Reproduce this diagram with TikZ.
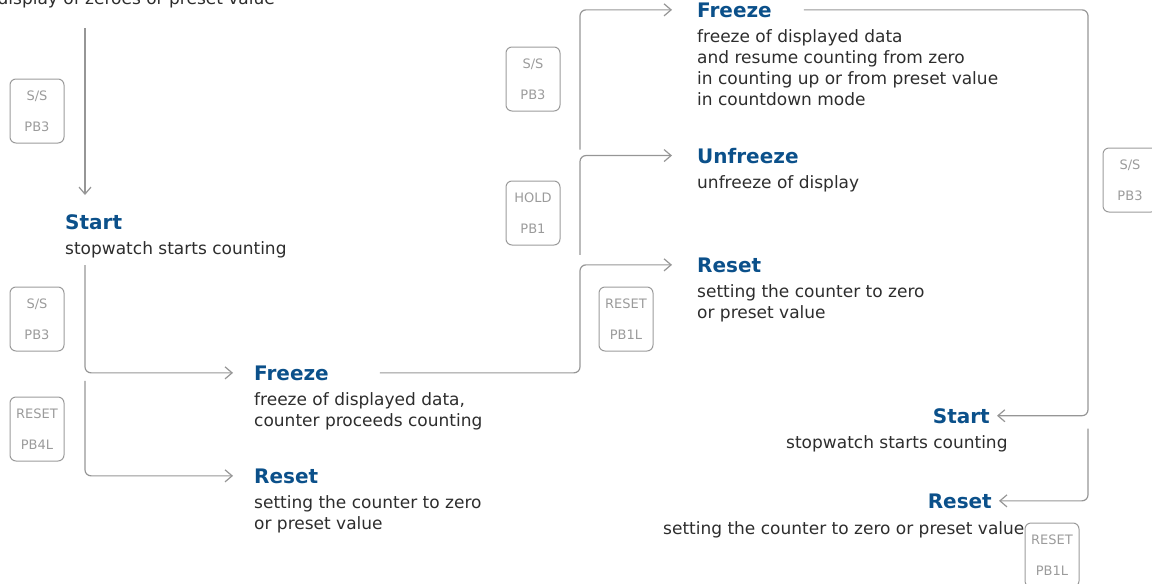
\documentclass[tikz,border=0pt]{standalone}
\usepackage{fontspec}
\setmainfont{DejaVu Sans}
\usetikzlibrary{arrows.meta}
\definecolor{headblue}{RGB}{11,80,138}
\definecolor{bodytext}{RGB}{45,45,45}
\definecolor{linegray}{RGB}{150,150,150}
\definecolor{keygray}{RGB}{155,155,155}

\begin{document}
\begin{tikzpicture}[x=1pt, y=-1pt, every node/.style={inner sep=0pt},
  head/.style={font=\fontsize{20}{24}\selectfont\bfseries, text=headblue, anchor=base west},
  note/.style={font=\fontsize{17}{21}\selectfont, text=bodytext, align=left, anchor=base west},
  key/.style={draw=keygray, line width=1pt, rounded corners=6pt, minimum width=54pt, minimum height=64pt, align=center, text=keygray, font=\fontsize{13}{31}\selectfont},
  link/.style={draw=linegray, line width=1.2pt, rounded corners=6pt},
  >={Straight Barb[length=7pt,width=12pt]}]
\useasboundingbox (0,0) rectangle (1152,584);
\coordinate (spineA) at (85,0);
\coordinate (spineB) at (580,0);
\coordinate (spineC) at (1088,0);

% left column (base of a note = baseline of its last line)
\node[note, anchor=base east] (init) at (275,4) {display of zeroes or preset value};
\node[head] (start1) at (65,229) {Start};
\node[note] (start1d) at ([yshift=-25pt]start1.base west) {stopwatch starts counting};
\node[head] (frz1) at (254,380) {Freeze};
\node[note] (frz1d) at ([yshift=-46pt]frz1.base west) {freeze of displayed data,\\counter proceeds counting};
\node[head] (rst1) at (254,483) {Reset};
\node[note] (rst1d) at ([yshift=-46pt]rst1.base west) {setting the counter to zero\\or preset value};
\node[key] (k1) at (37,111) {S/S\\PB3};
\node[key] (k2) at (37,319) {S/S\\PB3};
\node[key] (k3) at (37,429) {RESET\\PB4L};

% middle column
\node[head] (frz2) at (697,17) {Freeze};
\node[note] (frz2d) at ([yshift=-88pt]frz2.base west) {freeze of displayed data\\and resume counting from zero\\in counting up or from preset value\\in countdown mode};
\node[head] (unf) at (697,163) {Unfreeze};
\node[note] (unfd) at ([yshift=-25pt]unf.base west) {unfreeze of display};
\node[head] (rst2) at (697,272) {Reset};
\node[note] (rst2d) at ([yshift=-46pt]rst2.base west) {setting the counter to zero\\or preset value};
\node[key] (k4) at (533,79) {S/S\\PB3};
\node[key] (k5) at (533,213) {HOLD\\PB1};
\node[key] (k6) at (626,319) {RESET\\PB1L};

% right column
\node[head, anchor=base east] (start2) at (990,423) {Start};
\node[note] (start2d) at (786,448) {stopwatch starts counting};
\node[head, anchor=base east] (rst3) at (992,508) {Reset};
\node[note] (rst3d) at (663,534) {setting the counter to zero or preset value};
\node[key] (k7) at (1052,555) {RESET\\PB1L};
\node[key] (k8) at (1130,180) {S/S\\PB3};

% connectors
\draw[link,->] ([yshift=-24pt]init.base -| spineA) -- ([yshift=34pt]start1.base -| spineA);
\draw[link,->] ([yshift=-11pt]start1d.base -| spineA) |- ([xshift=-21pt]frz1.west);
\draw[link,->] ([yshift=-8pt]frz1.west -| spineA) |- ([xshift=-21pt]rst1.west);
\draw[link,->] ([xshift=51pt]frz1.east) -| (spineB |- rst2.west) -- ([xshift=-25pt]rst2.west);
\draw[link,->] ([yshift=10pt]rst2.west -| spineB) |- ([xshift=-25pt]unf.west);
\draw[link,->] ([yshift=6pt]unf.west -| spineB) |- ([xshift=-25pt]frz2.west);
\draw[link,->] ([xshift=32pt]frz2.east) -| (spineC |- start2.east) -- ([xshift=7pt]start2.east);
\draw[link,->] ([yshift=-13pt]start2.east -| spineC) |- ([xshift=7pt]rst3.east);
\end{tikzpicture}
\end{document}
